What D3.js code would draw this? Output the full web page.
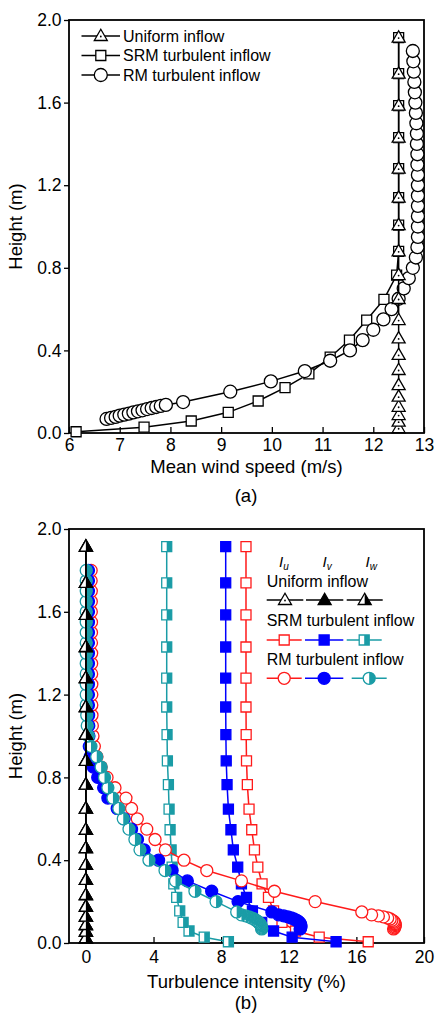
<!DOCTYPE html>
<html>
<head>
<meta charset="utf-8">
<script src="https://cdn.jsdelivr.net/npm/d3@7"></script>
<style>
  body { margin: 0; background: #fff; }
  svg { display: block; }
  text { font-family: "Liberation Sans", Arial, sans-serif; fill: #000; }
</style>
</head>
<body>
<svg id="fig" width="435" height="1017"></svg>
<script>
// ---------- (a) mean wind speed profiles ----------
const uniformHeight = [0.023,0.055,0.087,0.127,0.176,0.232,0.305,0.378,0.458,0.547,0.649,0.765,0.880,1.007,1.140,1.280,1.430,1.585,1.740,1.915];
const uniformSpeed  = [12.5,12.5,12.5,12.5,12.5,12.5,12.5,12.5,12.5,12.5,12.5,12.5,12.5,12.5,12.5,12.5,12.5,12.5,12.5,12.5];

const srmHeight = [0.006,0.028,0.058,0.100,0.155,0.220,0.286,0.367,0.450,0.547,0.647,0.765,0.880,1.007,1.140,1.280,1.430,1.585,1.740,1.915];
const srmSpeed  = [6.14,7.48,8.41,9.14,9.73,10.26,10.73,11.15,11.53,11.87,12.21,12.46,12.50,12.50,12.50,12.50,12.50,12.50,12.50,12.50];

const rmHeight = [0.068,0.073,0.078,0.084,0.089,0.094,0.100,0.105,0.110,0.116,0.121,0.126,0.131,0.136,
  0.15,0.20,0.25,0.30,0.35,0.40,0.45,0.50,0.55,0.60,0.65,0.70,0.75,0.80,0.85,0.90,0.95,1.00,1.05,1.10,
  1.15,1.20,1.25,1.30,1.35,1.40,1.45,1.50,1.55,1.60,1.65,1.70,1.75,1.80,1.85];
const rmSpeed = [6.74,6.83,6.92,7.00,7.09,7.18,7.27,7.36,7.45,7.54,7.63,7.72,7.81,7.91,
  8.25,9.18,9.98,10.65,11.15,11.54,11.79,12.00,12.20,12.36,12.50,12.60,12.70,12.78,12.84,12.87,12.88,12.88,12.88,12.88,
  12.88,12.88,12.88,12.87,12.87,12.86,12.86,12.85,12.84,12.83,12.82,12.81,12.80,12.79,12.78];

// ---------- (b) turbulence intensity profiles (%) ----------
const uniformIu = [0,0,0,0,0,0,0,0,0,0,0,0,0,0,0,0,0,0,0,0];
const uniformIv = [0,0,0,0,0,0,0,0,0,0,0,0,0,0,0,0,0,0,0,0];
const uniformIw = [0,0,0,0,0,0,0,0,0,0,0,0,0,0,0,0,0,0,0,0];

const srmIu = [16.7,13.8,12.4,11.6,11.1,10.8,10.42,10.17,9.97,9.81,9.65,9.55,9.50,9.48,9.47,9.47,9.47,9.47,9.47,9.47];
const srmIv = [14.8,12.2,11.1,10.4,9.85,9.50,9.20,8.98,8.72,8.58,8.43,8.35,8.30,8.28,8.27,8.27,8.27,8.27,8.27,8.27];
const srmIw = [8.43,7.00,6.10,5.75,5.55,5.37,5.20,5.10,5.04,4.98,4.92,4.88,4.82,4.80,4.78,4.78,4.78,4.78,4.78,4.78];

// RM profiles in panel (b) stop at 1.80 m
const rmHeightTI = [0.068,0.073,0.078,0.084,0.089,0.094,0.100,0.105,0.110,0.116,0.121,0.126,0.131,0.136,
  0.15,0.20,0.25,0.30,0.35,0.40,0.45,0.50,0.55,0.60,0.65,0.70,0.75,0.80,0.85,0.90,0.95,1.00,1.05,1.10,
  1.15,1.20,1.25,1.30,1.35,1.40,1.45,1.50,1.55,1.60,1.65,1.70,1.75,1.80];
const rmIu = [18.20,18.25,18.28,18.30,18.30,18.28,18.25,18.20,18.10,18.00,17.85,17.60,17.30,16.90,
  16.32,13.56,11.15,9.20,7.15,5.80,4.70,4.09,3.60,3.04,2.70,2.37,1.72,1.25,0.90,0.65,0.50,0.42,0.38,0.36,
  0.35,0.35,0.35,0.34,0.34,0.34,0.33,0.33,0.33,0.32,0.32,0.32,0.31,0.31];
const rmIv = [12.67,12.70,12.72,12.72,12.70,12.67,12.62,12.55,12.45,12.30,12.15,11.95,11.70,11.40,
  11.00,9.00,7.44,6.00,5.10,4.30,3.45,3.05,2.70,2.26,1.85,1.30,1.05,0.70,0.44,0.25,0.20,0.18,0.17,0.16,
  0.15,0.15,0.15,0.15,0.15,0.15,0.15,0.15,0.15,0.15,0.15,0.15,0.15,0.15];
const rmIw = [10.40,10.40,10.38,10.36,10.32,10.28,10.22,10.15,10.05,9.95,9.80,9.65,9.45,9.20,
  8.92,7.70,6.45,5.30,4.68,3.73,3.20,2.90,2.55,2.21,1.95,1.60,1.30,1.10,0.90,0.64,0.30,0.15,0.08,0.05,
  0.02,0.02,0.02,0.02,0.02,0.02,0.02,0.02,0.02,0.02,0.02,0.02,0.02,0.02];

// ---------- tick labels ----------
const speedTicks = [6,7,8,9,10,11,12,13];
const speedMinorTicks = [6.5,7.5,8.5,9.5,10.5,11.5,12.5];
const heightTicks = [0.0,0.4,0.8,1.2,1.6,2.0];
const heightMinorTicks = [0.2,0.6,1.0,1.4,1.8];
const intensityTicks = [0,4,8,12,16,20];
const intensityMinorTicks = [2,6,10,14,18];

const RED = "#ff1a1a", BLUE = "#0000ff", TEAL = "#1a9ca6", BLACK = "#000";

const svg = d3.select("#fig");
const FONT_TICK = 17.5;
const FONT_TITLE = 18.5;

// marker drawing: open / filled / half (right half filled)
function drawMarker(g, type, mode, color, sz) {
  let full, half;
  if (type === "circle") {
    const r = sz / 2;
    full = `M${-r},0A${r},${r} 0 1,1 ${r},0A${r},${r} 0 1,1 ${-r},0Z`;
    half = `M0,${-r}A${r},${r} 0 0,1 0,${r}Z`;
  } else if (type === "square") {
    const h = sz / 2;
    full = `M${-h},${-h}H${h}V${h}H${-h}Z`;
    half = `M0,${-h}H${h}V${h}H0Z`;
  } else {
    const hw = sz / 2, ht = sz * 0.866, top = -ht * 0.6, bot = ht * 0.4;
    full = `M0,${top}L${hw},${bot}L${-hw},${bot}Z`;
    half = `M0,${top}L${hw},${bot}L0,${bot}Z`;
  }
  g.append("path").attr("d", full).attr("fill", mode === "filled" ? color : "#fff");
  if (mode === "half") g.append("path").attr("d", half).attr("fill", color);
  g.append("path").attr("d", full).attr("fill", "none").attr("stroke", color).attr("stroke-width", 1.3);
  if (mode === "open" && type === "triangle") {
    g.append("circle").attr("r", 0.9).attr("cy", 0.5).attr("fill", color);
  }
}

function drawSeries(g, xs, ys, xS, yS, type, mode, color, sz) {
  const pts = xs.map((v, i) => [xS(v), yS(ys[i])]);
  g.append("path").attr("d", d3.line()(pts)).attr("fill", "none")
    .attr("stroke", color).attr("stroke-width", 1.5);
  pts.forEach(p => {
    drawMarker(g.append("g").attr("transform", `translate(${p[0]},${p[1]})`), type, mode, color, sz);
  });
}

function drawAxes(xS, yS, xMajor, xMinor, yMajor, yMinor, xFmt, xTitle, panel, titleY, panelY, labelPad) {
  const [x0, x1] = xS.range();
  const [y0, y1] = yS.range();
  const gx = svg.append("g").attr("transform", `translate(0,${y0})`);
  gx.call(d3.axisBottom(xS).tickValues(xMinor).tickSizeInner(-4).tickSizeOuter(0).tickFormat(""));
  gx.call(d3.axisBottom(xS).tickValues(xMajor).tickSizeInner(-6).tickSizeOuter(0).tickPadding(labelPad).tickFormat(xFmt));
  const gy = svg.append("g").attr("transform", `translate(${x0},0)`);
  gy.call(d3.axisLeft(yS).tickValues(yMinor).tickSizeInner(-4).tickSizeOuter(0).tickFormat(""));
  gy.call(d3.axisLeft(yS).tickValues(yMajor).tickSizeInner(5).tickSizeOuter(0).tickPadding(2.5).tickFormat(d3.format(".1f")));
  [gx, gy].forEach(a => {
    a.selectAll(".domain").remove();
    a.selectAll(".tick line").attr("stroke", "#000").attr("stroke-width", 1.3);
    a.selectAll(".tick text").attr("font-size", FONT_TICK).attr("font-family", "Liberation Sans, Arial, sans-serif").attr("fill", "#000");
  });
  svg.append("rect").attr("x", x0).attr("y", y1).attr("width", x1 - x0).attr("height", y0 - y1)
    .attr("fill", "none").attr("stroke", "#000").attr("stroke-width", 1.8);
  svg.append("text").attr("x", (x0 + x1) / 2).attr("y", titleY).attr("text-anchor", "middle")
    .attr("font-size", FONT_TITLE).text(xTitle);
  svg.append("text").attr("x", 246).attr("y", panelY).attr("text-anchor", "middle")
    .attr("font-size", FONT_TITLE).text(panel);
  svg.append("text").attr("transform", `translate(22,${(y0 + y1) / 2}) rotate(-90)`)
    .attr("text-anchor", "middle").attr("font-size", FONT_TITLE).text("Height (m)");
}

// ================= panel (a) =================
const xA = d3.scaleLinear().domain([6, 13]).range([69, 424]);
const yA = d3.scaleLinear().domain([0, 2]).range([433, 20]);
drawAxes(xA, yA, speedTicks, speedMinorTicks, heightTicks, heightMinorTicks, d3.format("d"),
  "Mean wind speed (m/s)", "(a)", 473, 502, 6);

const gA = svg.append("g");
drawSeries(gA, srmSpeed, srmHeight, xA, yA, "square", "open", BLACK, 10);
drawSeries(gA, rmSpeed, rmHeight, xA, yA, "circle", "open", BLACK, 13);
drawSeries(gA, uniformSpeed, uniformHeight, xA, yA, "triangle", "open", BLACK, 13);

// legend (a)
const legA = [
  { label: "Uniform inflow", type: "triangle", y: 36 },
  { label: "SRM turbulent inflow", type: "square", y: 55.5 },
  { label: "RM turbulent inflow", type: "circle", y: 75 }
];
legA.forEach(d => {
  svg.append("line").attr("x1", 81.5).attr("x2", 120).attr("y1", d.y).attr("y2", d.y)
    .attr("stroke", "#000").attr("stroke-width", 1.5);
  drawMarker(svg.append("g").attr("transform", `translate(100.8,${d.y})`), d.type, "open", BLACK,
    d.type === "square" ? 10 : 13);
  svg.append("text").attr("x", 123).attr("y", d.y).attr("dy", "0.36em").attr("font-size", 16).text(d.label);
});

// ================= panel (b) =================
const xB = d3.scaleLinear().domain([-1, 20]).range([69, 424]);
const yB = d3.scaleLinear().domain([0, 2]).range([943, 529]);
drawAxes(xB, yB, intensityTicks, intensityMinorTicks, heightTicks, heightMinorTicks, d3.format("d"),
  "Turbulence intensity (%)", "(b)", 988, 1009, 8);

const gB = svg.append("g");
drawSeries(gB, srmIu, srmHeight, xB, yB, "square", "open", RED, 10);
drawSeries(gB, srmIv, srmHeight, xB, yB, "square", "filled", BLUE, 10);
drawSeries(gB, srmIw, srmHeight, xB, yB, "square", "half", TEAL, 10);
drawSeries(gB, rmIu, rmHeightTI, xB, yB, "circle", "open", RED, 12);
drawSeries(gB, rmIv, rmHeightTI, xB, yB, "circle", "filled", BLUE, 12);
drawSeries(gB, rmIw, rmHeightTI, xB, yB, "circle", "half", TEAL, 12);
drawSeries(gB, uniformIu, uniformHeight, xB, yB, "triangle", "open", BLACK, 13);
drawSeries(gB, uniformIv, uniformHeight, xB, yB, "triangle", "filled", BLACK, 13);
drawSeries(gB, uniformIw, uniformHeight, xB, yB, "triangle", "half", BLACK, 13);

// legend (b)
const compX = [
  { name: "u", x: 279 },
  { name: "v", x: 322.5 },
  { name: "w", x: 365.5 }
];
compX.forEach(c => {
  const t = svg.append("text").attr("x", c.x).attr("y", 567).attr("font-size", 15).attr("font-style", "italic");
  t.append("tspan").text("I");
  t.append("tspan").attr("font-size", 10).attr("dy", 3).text(c.name);
});
const legRows = [
  { label: "Uniform inflow", ty: 581.7, my: 600, type: "triangle", size: 13,
    items: [[266.7, 303.3, BLACK, "open"], [306, 343.3, BLACK, "filled"], [346.7, 382.7, BLACK, "half"]] },
  { label: "SRM turbulent inflow", ty: 620, my: 640, type: "square", size: 10,
    items: [[266.7, 301.7, RED, "open"], [305, 343.3, BLUE, "filled"], [346.7, 381.7, TEAL, "half"]] },
  { label: "RM turbulent inflow", ty: 659.3, my: 678.3, type: "circle", size: 12,
    items: [[266.7, 301.7, RED, "open"], [305, 343.3, BLUE, "filled"], [351.7, 386.7, TEAL, "half"]] }
];
legRows.forEach(r => {
  svg.append("text").attr("x", 266.7).attr("y", r.ty).attr("dy", "0.36em").attr("font-size", 16).text(r.label);
  r.items.forEach(([a, b, col, mode]) => {
    svg.append("line").attr("x1", a).attr("x2", b).attr("y1", r.my).attr("y2", r.my)
      .attr("stroke", col).attr("stroke-width", 1.5);
    drawMarker(svg.append("g").attr("transform", `translate(${(a + b) / 2},${r.my})`), r.type, mode, col, r.size);
  });
});
</script>
</body>
</html>
